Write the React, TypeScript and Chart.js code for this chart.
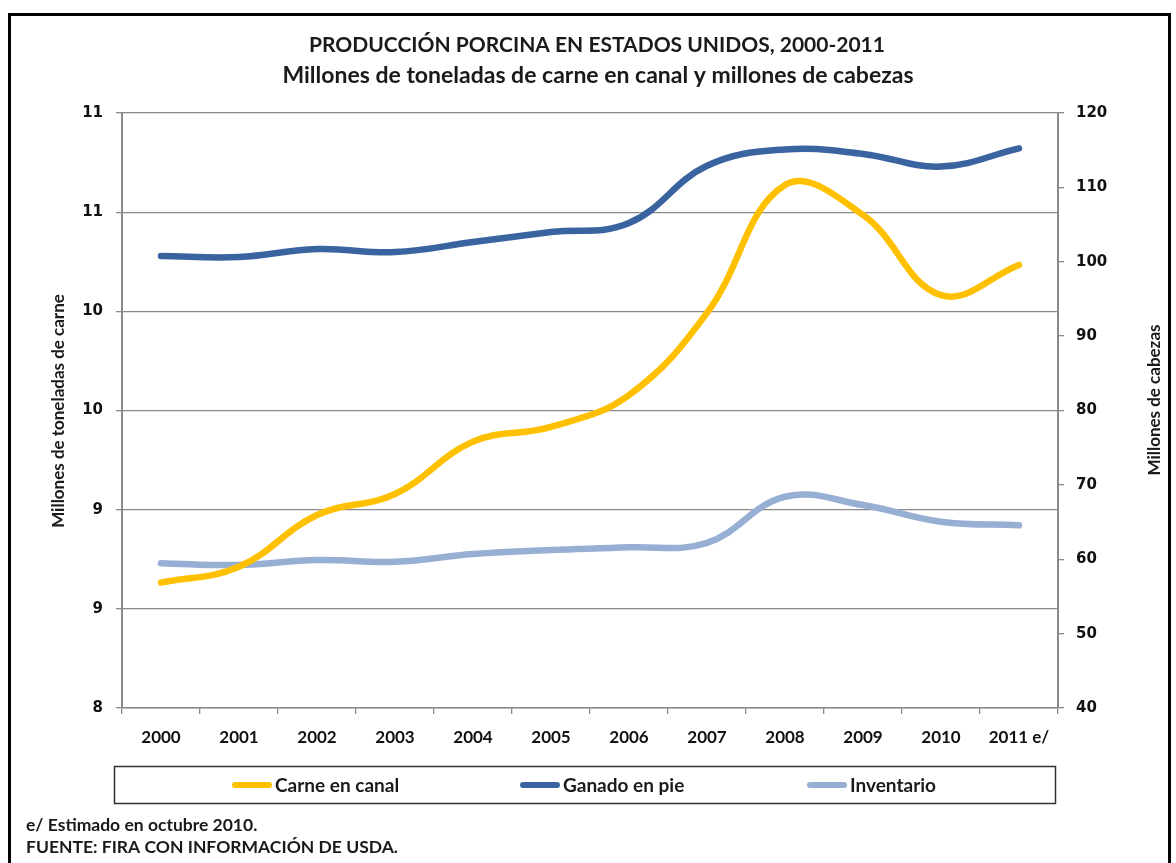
import React, { useEffect, useRef } from 'react';
import { Chart, registerables } from 'chart.js';

Chart.register(...registerables);

const years = ['2000', '2001', '2002', '2003', '2004', '2005', '2006', '2007', '2008', '2009', '2010', '2011 e/'];
const carneEnCanal = [8.632, 8.712, 8.973, 9.079, 9.343, 9.418, 9.578, 9.992, 10.637, 10.486, 10.082, 10.234];
const ganadoEnPie = [100.77, 100.64, 101.7, 101.3, 102.65, 104.0, 105.2, 112.9, 115.1, 114.5, 112.8, 115.25];
const inventario = [59.46, 59.23, 59.9, 59.67, 60.7, 61.24, 61.6, 62.2, 68.4, 67.3, 65.05, 64.56];
const leftTickLabels = ['8', '9', '9', '10', '10', '11', '11'];
const rightTickLabels = ['40', '50', '60', '70', '80', '90', '100', '110', '120'];

const titleText = 'PRODUCCIÓN PORCINA EN ESTADOS UNIDOS, 2000-2011';
const subtitleText = 'Millones de toneladas de carne en canal y millones de cabezas';
const leftAxisTitle = 'Millones de toneladas de carne';
const rightAxisTitle = 'Millones de cabezas';
const footnotes = ['e/ Estimado en octubre 2010.', 'FUENTE: FIRA CON INFORMACIÓN DE USDA.'];

const FONT = 'Lato, "Open Sans", sans-serif';
const TICK_FONT = '"DejaVu Sans", Verdana, sans-serif';

const decorPlugin = {
  id: 'decor',
  beforeDraw(chart: any) {
    const ctx = chart.ctx;
    ctx.save();
    ctx.fillStyle = '#ffffff';
    ctx.fillRect(0, 0, chart.width, chart.height);
    ctx.restore();
  },
  afterDraw(chart: any) {
    const ctx = chart.ctx;
    ctx.save();
    // outer frame
    ctx.strokeStyle = '#000';
    ctx.lineWidth = 3;
    ctx.strokeRect(9.5, 14.5, 1160, 900);

    // titles
    ctx.fillStyle = '#1a1a1a';
    ctx.textAlign = 'center';
    ctx.textBaseline = 'middle';
    ctx.font = `bold 21px ${FONT}`;
    ctx.fillText(titleText, 597, 45, 583);
    ctx.font = `bold 23px ${FONT}`;
    ctx.fillText(subtitleText, 598, 76, 636);

    // axis titles
    ctx.font = `bold 17px ${FONT}`;
    ctx.save();
    ctx.translate(59, 411);
    ctx.rotate(-Math.PI / 2);
    ctx.fillText(leftAxisTitle, 0, 0);
    ctx.restore();
    ctx.save();
    ctx.translate(1155, 400);
    ctx.rotate(-Math.PI / 2);
    ctx.fillText(rightAxisTitle, 0, 0);
    ctx.restore();

    // legend
    ctx.strokeStyle = '#333';
    ctx.lineWidth = 1.5;
    ctx.strokeRect(114.5, 766.5, 941, 37);
    const legendX = [232, 520, 807];
    ctx.font = `bold 19px ${FONT}`;
    ctx.textAlign = 'left';
    chart.data.datasets.forEach((ds: any, i: number) => {
      const x0 = legendX[i];
      ctx.strokeStyle = ds.borderColor;
      ctx.lineWidth = 6;
      ctx.lineCap = 'round';
      ctx.beginPath();
      ctx.moveTo(x0 + 3, 785);
      ctx.lineTo(x0 + 37, 785);
      ctx.stroke();
      ctx.fillStyle = '#1a1a1a';
      ctx.fillText(ds.label, x0 + 43, 786);
    });

    // footnotes
    ctx.font = `bold 17.5px ${FONT}`;
    ctx.fillText(footnotes[0], 26, 825);
    ctx.fillText(footnotes[1], 26, 847);
    ctx.restore();
  },
};

export default function App() {
  const canvasRef = useRef<HTMLCanvasElement | null>(null);

  useEffect(() => {
    if (!canvasRef.current) return;
    const lineStyle = {
      borderWidth: 6.5,
      pointRadius: 0,
      pointHoverRadius: 0,
      tension: 0.4,
      borderCapStyle: 'round' as const,
      borderJoinStyle: 'round' as const,
      fill: false,
    };
    const chart = new Chart(canvasRef.current, {
      type: 'line',
      data: {
        labels: years,
        datasets: [
          { label: 'Carne en canal', data: carneEnCanal, yAxisID: 'y', borderColor: '#FFC000', backgroundColor: '#FFC000', ...lineStyle },
          { label: 'Ganado en pie', data: ganadoEnPie, yAxisID: 'y1', borderColor: '#3A64A0', backgroundColor: '#3A64A0', ...lineStyle },
          { label: 'Inventario', data: inventario, yAxisID: 'y1', borderColor: '#98AFD4', backgroundColor: '#98AFD4', ...lineStyle },
        ],
      },
      options: {
        responsive: false,
        animation: false,
        layout: { padding: { top: 113, left: 0, right: 0, bottom: 110 } },
        plugins: {
          legend: { display: false },
          title: { display: false },
          tooltip: { enabled: false },
        },
        scales: {
          x: {
            type: 'category',
            offset: true,
            afterFit: (s: any) => { s.height = 45; },
            grid: { offset: true, drawOnChartArea: false, drawTicks: true, tickLength: 6, color: '#8a8a8a', lineWidth: 1.3 },
            border: { display: true, color: '#8a8a8a', width: 1.5 },
            ticks: { color: '#111', font: { family: FONT, size: 17, weight: 'bold' }, padding: 13, maxRotation: 0, autoSkip: false },
          },
          y: {
            type: 'linear',
            position: 'left',
            min: 8,
            max: 11,
            afterFit: (s: any) => { s.width = 122; },
            ticks: {
              stepSize: 0.5,
              color: '#111',
              padding: 13,
              font: { family: TICK_FONT, size: 15, weight: 'bold' },
              callback: (_v: any, i: number) => leftTickLabels[i],
            },
            grid: { drawOnChartArea: true, drawTicks: true, tickLength: 6, color: '#8a8a8a', lineWidth: 1.3 },
            border: { display: true, color: '#8a8a8a', width: 2 },
          },
          y1: {
            type: 'linear',
            position: 'right',
            min: 40,
            max: 120,
            afterFit: (s: any) => { s.width = 118; },
            ticks: {
              stepSize: 10,
              color: '#111',
              padding: 12,
              font: { family: TICK_FONT, size: 15, weight: 'bold' },
              callback: (_v: any, i: number) => rightTickLabels[i],
            },
            grid: { drawOnChartArea: false, drawTicks: true, tickLength: 6, color: '#8a8a8a', lineWidth: 1.3 },
            border: { display: true, color: '#8a8a8a', width: 2 },
          },
        },
      },
      plugins: [decorPlugin],
    } as any);
    return () => chart.destroy();
  }, []);

  return (
    <div style={{ position: 'absolute', left: 0, top: 0, width: 1176, height: 863 }}>
      <canvas ref={canvasRef} width={1176} height={863} style={{ display: 'block', width: 1176, height: 863 }} />
    </div>
  );
}
